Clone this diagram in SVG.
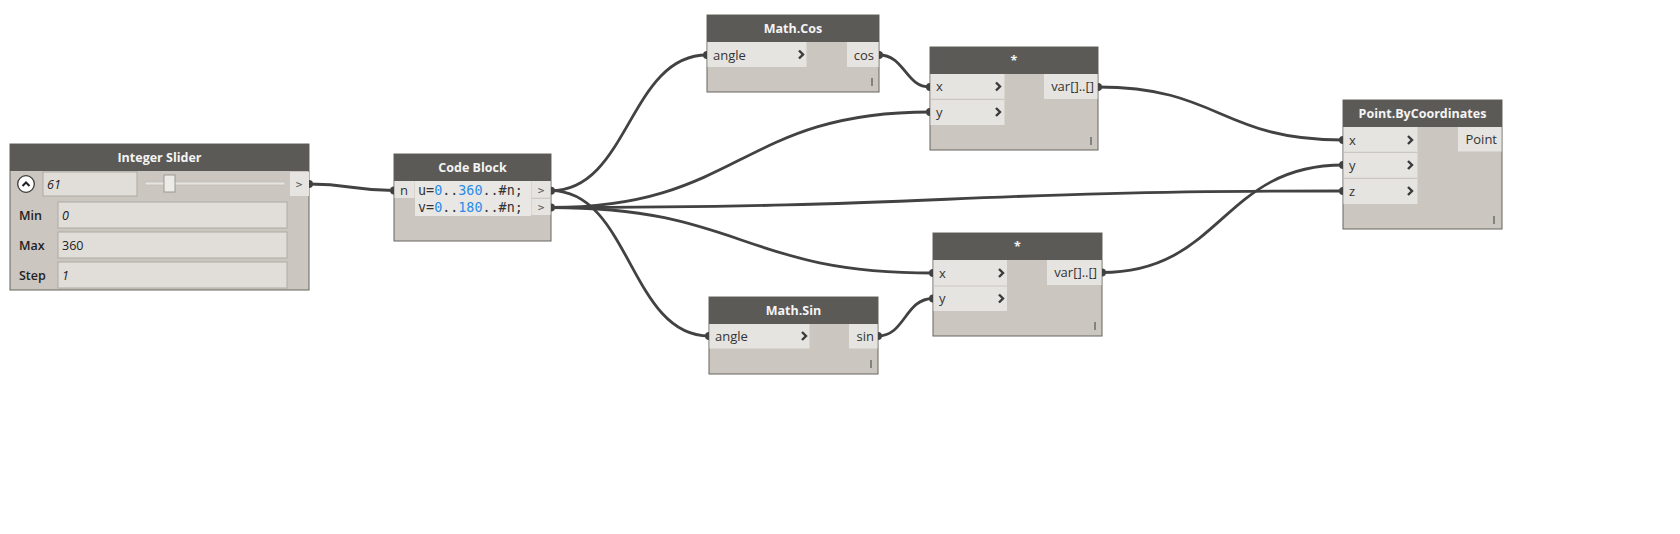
<svg xmlns="http://www.w3.org/2000/svg" width="1680" height="534" viewBox="0 0 1680 534">
<defs>
<style>
.body{fill:#cbc6bf;stroke:#66645f;stroke-width:1}
.head{fill:#5c5a57}
.title{font-family:"Open Sans","Liberation Sans",sans-serif;font-size:12.5px;font-weight:bold;fill:#f4f4f4;text-anchor:middle}
.port{fill:#e6e4e0}
.sep{stroke:#cbc6bf;stroke-width:1.2}
.lbl{font-family:"Open Sans","Liberation Sans",sans-serif;font-size:13px;fill:#333}
.rt{text-anchor:end}
.chev{fill:none;stroke:#3a3a3a;stroke-width:2.4;stroke-linecap:butt}
.lace{stroke:#555;stroke-width:1.2}
.wire{fill:none;stroke:#424242;stroke-width:2.8}
.pin{fill:#424242}
.code{font-family:"DejaVu Sans Mono","Liberation Mono",monospace;font-size:13.4px;fill:#333}
.num{fill:#2a8ce8}
.box{fill:#e1ded9;stroke:#aeaaa5;stroke-width:1}
.sl{font-family:"Open Sans","Liberation Sans",sans-serif;font-size:12.5px;fill:#222}
.it{font-style:italic}
.gt{font-family:"DejaVu Sans Mono","Liberation Mono",monospace;font-size:11px;fill:#555;text-anchor:middle}
</style>
</defs>
<rect width="1680" height="534" fill="#ffffff"/>

<g id="connectors">
<path class="wire" d="M309,184 C351,184 352,190.5 394,190.5"/>
<path class="wire" d="M551,190.7 C629,190.7 629,55 707,55"/>
<path class="wire" d="M551,190.7 C630,190.7 630,336 709,336"/>
<path class="wire" d="M551,207.5 C740,207.5 740,112 930,112"/>
<path class="wire" d="M551,207.5 C742,207.5 742,273 933,273"/>
<path class="wire" d="M551,207.5 C947,207.5 947,191 1343,191"/>
<path class="wire" d="M879,55 C905,55 905,87 930,87"/>
<path class="wire" d="M878,336 C905,336 905,298.5 933,298.5"/>
<path class="wire" d="M1098,87 C1220,87 1220,140 1343,140"/>
<path class="wire" d="M1102,272.5 C1222,272.5 1222,165 1343,165"/>
</g>

<g id="integer-slider">
<rect class="body" x="10" y="144" width="299" height="146"/>
<rect class="head" x="10" y="144" width="299" height="27"/>
<text class="title" x="159.5" y="162">Integer Slider</text>
<circle cx="26" cy="184" r="8.3" fill="#ffffff" stroke="#3a3a3a" stroke-width="1.3"/>
<polyline points="22.5,186 26,182.5 29.5,186" fill="none" stroke="#222" stroke-width="2"/>
<rect class="box" x="43" y="172" width="94" height="24"/>
<text class="sl it" x="47" y="188.5">61</text>
<rect x="145" y="182" width="140" height="3" fill="#e6e4e0" stroke="#c2beb8" stroke-width="0.8"/>
<rect x="164" y="175" width="11" height="17" fill="#ecebe8" stroke="#9c9893" stroke-width="1"/>
<rect class="port" x="290" y="172" width="19" height="24"/>
<text class="gt" x="299" y="188">&gt;</text>
<text class="sl" x="19" y="219.5" font-weight="600">Min</text>
<rect class="box" x="58" y="202" width="229" height="26"/>
<text class="sl it" x="62" y="219.5">0</text>
<text class="sl" x="19" y="249.5" font-weight="600">Max</text>
<rect class="box" x="58" y="232" width="229" height="26"/>
<text class="sl" x="62" y="249.5">360</text>
<text class="sl" x="19" y="279.5" font-weight="600">Step</text>
<rect class="box" x="58" y="262" width="229" height="26"/>
<text class="sl it" x="62" y="279.5">1</text>
<path class="pin" d="M309,180 A4,4 0 0 1 309,188 Z"/>
</g>

<g id="code-block">
<rect class="body" x="394" y="154" width="157" height="87"/>
<rect class="head" x="394" y="154" width="157" height="27"/>
<text class="title" x="472.5" y="172">Code Block</text>
<rect class="port" x="394.5" y="181" width="20" height="17"/>
<text class="lbl" x="400" y="194.5">n</text>
<rect x="415" y="181" width="116" height="35" fill="#e9e7e3"/>
<text class="code" x="418" y="194.8">u=<tspan class="num">0</tspan>..<tspan class="num">360</tspan>..#n;</text>
<text class="code" x="418" y="212.3">v=<tspan class="num">0</tspan>..<tspan class="num">180</tspan>..#n;</text>
<rect class="port" x="531.5" y="181" width="19" height="34"/>
<line class="sep" x1="531.5" y1="198.3" x2="550.5" y2="198.3"/>
<text class="gt" x="541" y="194">&gt;</text>
<text class="gt" x="541" y="211">&gt;</text>
<path class="pin" d="M394,186.5 A4,4 0 0 0 394,194.5 Z"/>
<path class="pin" d="M551,186.7 A4,4 0 0 1 551,194.7 Z"/>
<path class="pin" d="M551,203.5 A4,4 0 0 1 551,211.5 Z"/>
</g>

<g id="math-cos">
<rect class="body" x="707" y="15" width="172" height="77"/>
<rect class="head" x="707" y="15" width="172" height="27"/>
<text class="title" x="793" y="33">Math.Cos</text>
<rect class="port" x="707.5" y="42" width="99" height="25"/>
<text class="lbl" x="713" y="59.5">angle</text>
<polyline class="chev" points="799,50.5 803,54.5 799,58.5"/>
<rect class="port" x="847" y="42" width="31.5" height="25"/>
<text class="lbl rt" x="874" y="59.5">cos</text>
<line class="lace" x1="872" y1="78" x2="872" y2="86"/>
<path class="pin" d="M707,51 A4,4 0 0 0 707,59 Z"/>
<path class="pin" d="M879,51 A4,4 0 0 1 879,59 Z"/>
</g>

<g id="multiply-top">
<rect class="body" x="930" y="47" width="168" height="103"/>
<rect class="head" x="930" y="47" width="168" height="27"/>
<text class="title" x="1014" y="65">*</text>
<rect class="port" x="930.5" y="74" width="74" height="51"/>
<line class="sep" x1="930.5" y1="99.3" x2="1004.5" y2="99.3"/>
<text class="lbl" x="936" y="91">x</text>
<text class="lbl" x="936" y="116.5">y</text>
<polyline class="chev" points="996,82.5 1000,86.5 996,90.5"/>
<polyline class="chev" points="996,108 1000,112 996,116"/>
<rect class="port" x="1044" y="74" width="53.5" height="25"/>
<text class="lbl rt" x="1094" y="91">var[]..[]</text>
<line class="lace" x1="1091" y1="137" x2="1091" y2="145"/>
<path class="pin" d="M930,83 A4,4 0 0 0 930,91 Z"/>
<path class="pin" d="M930,108 A4,4 0 0 0 930,116 Z"/>
<path class="pin" d="M1098,83 A4,4 0 0 1 1098,91 Z"/>
</g>

<g id="multiply-bottom">
<rect class="body" x="933" y="233" width="169" height="103"/>
<rect class="head" x="933" y="233" width="169" height="27"/>
<text class="title" x="1017.5" y="251">*</text>
<rect class="port" x="933.5" y="260" width="73.5" height="51"/>
<line class="sep" x1="933.5" y1="286" x2="1007" y2="286"/>
<text class="lbl" x="939" y="277.5">x</text>
<text class="lbl" x="939" y="303">y</text>
<polyline class="chev" points="999,269 1003,273 999,277"/>
<polyline class="chev" points="999,294.5 1003,298.5 999,302.5"/>
<rect class="port" x="1047" y="260" width="54.5" height="25"/>
<text class="lbl rt" x="1097" y="277">var[]..[]</text>
<line class="lace" x1="1095" y1="322" x2="1095" y2="330"/>
<path class="pin" d="M933,269 A4,4 0 0 0 933,277 Z"/>
<path class="pin" d="M933,294.5 A4,4 0 0 0 933,302.5 Z"/>
<path class="pin" d="M1102,268.5 A4,4 0 0 1 1102,276.5 Z"/>
</g>

<g id="math-sin">
<rect class="body" x="709" y="297" width="169" height="77"/>
<rect class="head" x="709" y="297" width="169" height="27"/>
<text class="title" x="793.5" y="315">Math.Sin</text>
<rect class="port" x="709.5" y="324" width="100" height="24.5"/>
<text class="lbl" x="715" y="340.5">angle</text>
<polyline class="chev" points="802,332 806,336 802,340"/>
<rect class="port" x="849" y="324" width="28.5" height="24.5"/>
<text class="lbl rt" x="874" y="340.5">sin</text>
<line class="lace" x1="871" y1="360" x2="871" y2="368"/>
<path class="pin" d="M709,332 A4,4 0 0 0 709,340 Z"/>
<path class="pin" d="M878,332 A4,4 0 0 1 878,340 Z"/>
</g>

<g id="point-bycoordinates">
<rect class="body" x="1343" y="100" width="159" height="129"/>
<rect class="head" x="1343" y="100" width="159" height="27"/>
<text class="title" x="1422.5" y="118">Point.ByCoordinates</text>
<rect class="port" x="1343.5" y="127" width="74" height="77"/>
<line class="sep" x1="1343.5" y1="152.3" x2="1417.5" y2="152.3"/>
<line class="sep" x1="1343.5" y1="178.3" x2="1417.5" y2="178.3"/>
<text class="lbl" x="1349" y="144.5">x</text>
<text class="lbl" x="1349" y="169.5">y</text>
<text class="lbl" x="1349" y="195.5">z</text>
<polyline class="chev" points="1408,136 1412,140 1408,144"/>
<polyline class="chev" points="1408,161 1412,165 1408,169"/>
<polyline class="chev" points="1408,187 1412,191 1408,195"/>
<rect class="port" x="1458" y="127" width="43.5" height="24.5"/>
<text class="lbl rt" x="1497" y="144">Point</text>
<line class="lace" x1="1494" y1="216" x2="1494" y2="224"/>
<path class="pin" d="M1343,136 A4,4 0 0 0 1343,144 Z"/>
<path class="pin" d="M1343,161 A4,4 0 0 0 1343,169 Z"/>
<path class="pin" d="M1343,187 A4,4 0 0 0 1343,195 Z"/>
</g>
</svg>
